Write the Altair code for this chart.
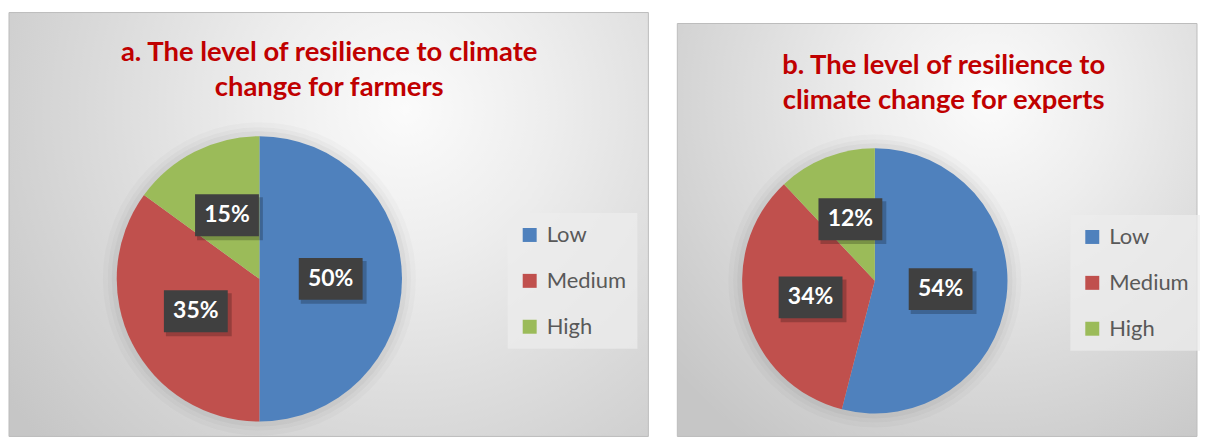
import altair as alt
import pandas as pd

categories = ["Low", "Medium", "High"]
farmers = [50, 35, 15]
experts = [54, 34, 12]
colors = ["#4F81BD", "#C0504D", "#9BBB59"]
title_a = ["a. The level of resilience to climate", "change for farmers"]
title_b = ["b. The level of resilience to", "climate change for experts"]

FONT = "Lato"


def gradient(cx, cy, r2):
    return alt.Gradient(
        gradient="radial",
        stops=[
            alt.GradientStop(color="#fbfbfb", offset=0),
            alt.GradientStop(color="#ededed", offset=0.3),
            alt.GradientStop(color="#dcdcdc", offset=0.6),
            alt.GradientStop(color="#c6c6c6", offset=1),
        ],
        x1=cx, y1=cy, r1=0, x2=cx, y2=cy, r2=r2,
    )


def panel(values, title_lines, W, H, bg, gcx, gcy, gr, cx, cy, r, leg_x, leg_y, tx, ty):
    one = pd.DataFrame({"k": [0]})
    df = pd.DataFrame({"category": categories, "value": values,
                       "order": list(range(len(categories)))})

    page = alt.Chart(one).mark_rect(fill="white").encode(
        x=alt.value(0), x2=alt.value(W), y=alt.value(0), y2=alt.value(H))

    bg_layer = alt.Chart(one).mark_rect(
        fill=gradient(gcx, gcy, gr), stroke="#bdbdbd", strokeWidth=1
    ).encode(x=alt.value(bg[0]), x2=alt.value(bg[2]),
             y=alt.value(bg[1]), y2=alt.value(bg[3]))

    halos = []
    for extra, op in [(14, 0.02), (9, 0.025), (5, 0.03)]:
        halos.append(
            alt.Chart(one).mark_arc(theta=0, theta2=6.2832, outerRadius=r + extra,
                                    fill="black", opacity=op)
            .encode(x=alt.value(cx), y=alt.value(cy))
        )

    pie = alt.Chart(df).mark_arc(outerRadius=r).encode(
        theta=alt.Theta("value:Q", stack=True),
        order=alt.Order("order:Q"),
        color=alt.Color(
            "category:N",
            scale=alt.Scale(domain=categories, range=colors),
            legend=alt.Legend(
                title=None, orient="none", legendX=leg_x, legendY=leg_y,
                fillColor="rgba(236,236,236,0.75)", padding=11,
                symbolType="square", symbolSize=196, symbolStrokeWidth=0,
                symbolOpacity=1, labelFont=FONT, labelFontSize=22,
                labelColor="#595959", rowPadding=24, labelOffset=6,
            ),
        ),
        x=alt.value(cx), y=alt.value(cy),
    )

    lab = alt.Chart(df).transform_window(
        cum="sum(value)", sort=[alt.SortField("order")], frame=[None, 0]
    ).transform_joinaggregate(total="sum(value)").transform_calculate(
        mid="(datum.cum - datum.value / 2) / datum.total * 2 * PI",
        label="datum.value + '%'",
    ).transform_calculate(
        lx=f"{cx} + {0.5 * r} * sin(datum.mid)",
        ly=f"{cy} - {0.5 * r} * cos(datum.mid)",
    ).transform_calculate(
        bx1="datum.lx - 32", bx2="datum.lx + 32",
        by1="datum.ly - 21", by2="datum.ly + 21",
        sx1="datum.lx - 30", sx2="datum.lx + 36",
        sy1="datum.ly - 18", sy2="datum.ly + 25",
    )

    shadow = lab.mark_rect(fill="black", opacity=0.22).encode(
        x=alt.X("sx1:Q", scale=None, axis=None), x2="sx2:Q",
        y=alt.Y("sy1:Q", scale=None, axis=None), y2="sy2:Q",
    )
    box = lab.mark_rect(fill="#404040").encode(
        x=alt.X("bx1:Q", scale=None, axis=None), x2="bx2:Q",
        y=alt.Y("by1:Q", scale=None, axis=None), y2="by2:Q",
    )
    text = lab.mark_text(font=FONT, fontWeight="bold", fontSize=23, color="white",
                         align="center", baseline="middle").encode(
        x=alt.X("lx:Q", scale=None, axis=None),
        y=alt.Y("ly:Q", scale=None, axis=None),
        text="label:N",
    )

    tdf = pd.DataFrame({"line": title_lines, "idx": list(range(len(title_lines)))})
    title = alt.Chart(tdf).transform_calculate(
        ty=f"{ty} + datum.idx * 35"
    ).mark_text(font=FONT, fontWeight="bold", fontSize=27.5, color="#C00000",
                align="center", baseline="alphabetic").encode(
        x=alt.value(tx), y=alt.Y("ty:Q", scale=None, axis=None), text="line:N"
    )

    return alt.layer(page, bg_layer, *halos, pie, shadow, box, text, title).properties(
        width=W, height=H
    )


a = panel(farmers, title_a, 666, 429, (1, 4, 642, 429), 0.62, 0.32, 0.77,
          252, 271, 143, 501, 205, 322, 53)
b = panel(experts, title_b, 526, 429, (5, 15, 526, 429), 0.6, 0.25, 0.8,
          203, 273, 133, 399, 207, 272, 66)

chart = alt.hconcat(a, b, spacing=0).resolve_scale(color="independent").resolve_legend(
    color="independent"
).configure_view(stroke=None).properties(padding=0, background="white")

chart.save("out.html", embed_options={"renderer": "svg", "actions": False})
